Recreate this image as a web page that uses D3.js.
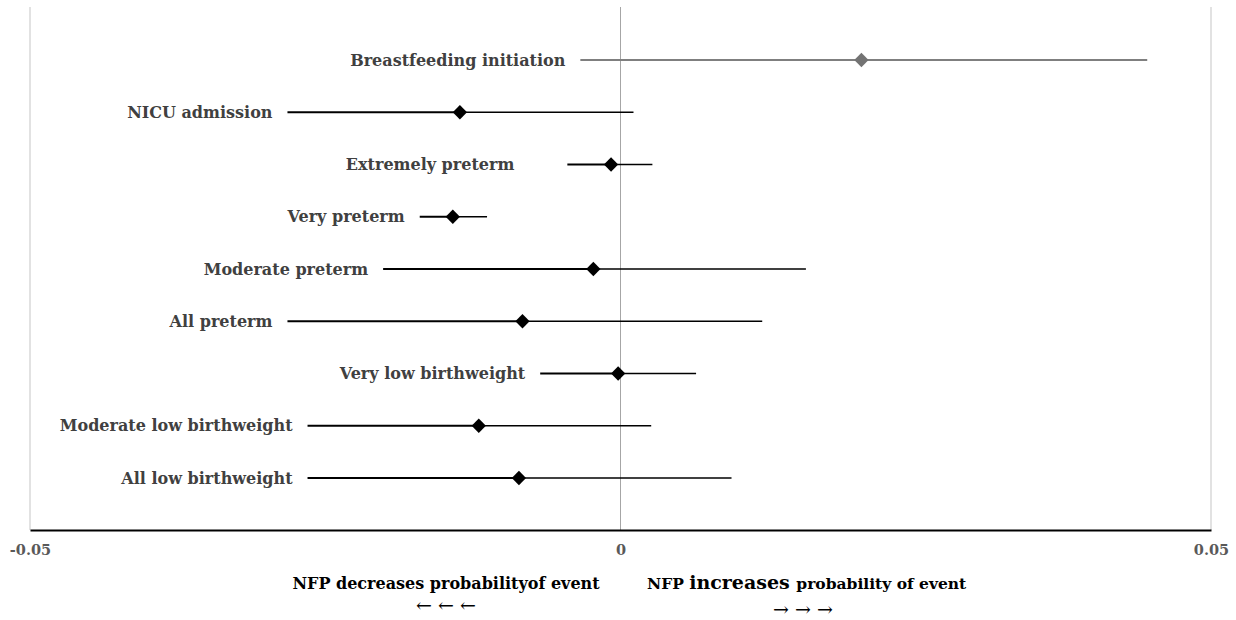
<!DOCTYPE html>
<html>
<head>
<meta charset="utf-8">
<script src="https://cdn.jsdelivr.net/npm/d3@7"></script>
<style>
  body { margin: 0; background: #ffffff; }
  #wrapper svg { display: block; }
</style>
</head>
<body>
<div id="wrapper"></div>
<script>
// outcomes, top to bottom
const outcomes = [
    "Breastfeeding initiation",
    "NICU admission",
    "Extremely preterm",
    "Very preterm",
    "Moderate preterm",
    "All preterm",
    "Very low birthweight",
    "Moderate low birthweight",
    "All low birthweight"
];
// point estimates and confidence bounds
const estimates = [0.0204, -0.0136, -0.0008, -0.0142, -0.0023, -0.0083, -0.0002, -0.0120, -0.0086];
const lowerBounds = [-0.0034, -0.0282, -0.0045, -0.0170, -0.0201, -0.0282, -0.0068, -0.0265, -0.0265];
const upperBounds = [0.0446, 0.0011, 0.0027, -0.0113, 0.0157, 0.0120, 0.0064, 0.0026, 0.0094];
const tickValues = [-0.05, 0, 0.05];
const tickLabels = ["-0.05", "0", "0.05"];

function buildPlot() {
    const dimension = {
        width: 1236,
        height: 620,
        margin: { top: 7, left: 30, bottom: 90, right: 25 }
    };
    dimension.boundedWidth = dimension.width - dimension.margin.left - dimension.margin.right;
    dimension.boundedHeight = dimension.height - dimension.margin.top - dimension.margin.bottom;

    const svg = d3.select("#wrapper").append("svg")
        .attr("width", dimension.width)
        .attr("height", dimension.height);

    const bounds = svg.append("g")
        .attr("transform", `translate(${dimension.margin.left},${dimension.margin.top})`);

    const xScaler = d3.scaleLinear()
        .domain([-0.05, 0.05])
        .range([0, dimension.boundedWidth]);

    const yScaler = d3.scalePoint()
        .domain(outcomes)
        .range([53, 471]);

    // light frame left/right
    bounds.append("line")
        .attr("x1", 0).attr("x2", 0)
        .attr("y1", 0).attr("y2", dimension.boundedHeight)
        .attr("stroke", "#d9d9d9").attr("stroke-width", 1.5);
    bounds.append("line")
        .attr("x1", dimension.boundedWidth).attr("x2", dimension.boundedWidth)
        .attr("y1", 0).attr("y2", dimension.boundedHeight)
        .attr("stroke", "#d9d9d9").attr("stroke-width", 1.5);

    // zero line
    bounds.append("line")
        .attr("x1", xScaler(0)).attr("x2", xScaler(0))
        .attr("y1", 0).attr("y2", dimension.boundedHeight)
        .attr("stroke", "#a6a6a6").attr("stroke-width", 1);

    // x axis
    const xAxisGenerator = d3.axisBottom(xScaler)
        .tickValues(tickValues)
        .tickSize(0)
        .tickPadding(15)
        .tickFormat((d, i) => tickLabels[i]);

    const xAxis = bounds.append("g")
        .attr("transform", `translate(0,${dimension.boundedHeight})`)
        .call(xAxisGenerator);
    xAxis.select(".domain")
        .attr("stroke", "#000")
        .attr("stroke-width", 2);
    xAxis.selectAll("text")
        .attr("fill", "#595959")
        .style("font-family", "'DejaVu Serif', serif")
        .style("font-weight", "bold")
        .style("font-size", "14.5px");

    const data = outcomes.map((name, i) => ({
        name: name,
        est: estimates[i],
        lo: lowerBounds[i],
        hi: upperBounds[i],
        first: i === 0
    }));

    const rows = bounds.selectAll(".row")
        .data(data)
        .enter()
        .append("g")
        .attr("class", "row")
        .attr("transform", (d) => `translate(0,${yScaler(d.name)})`);

    // left whisker (thicker), right whisker (thin)
    rows.append("line")
        .attr("x1", (d) => xScaler(d.lo))
        .attr("x2", (d) => xScaler(d.est))
        .attr("stroke", (d) => d.first ? "#7f7f7f" : "#000")
        .attr("stroke-width", 2.2);
    rows.append("line")
        .attr("x1", (d) => xScaler(d.est))
        .attr("x2", (d) => xScaler(d.hi))
        .attr("stroke", (d) => d.first ? "#7f7f7f" : "#000")
        .attr("stroke-width", (d) => d.first ? 2.2 : 1.3);

    // diamonds
    rows.append("path")
        .attr("d", d3.symbol().type(d3.symbolDiamond2).size(130))
        .attr("transform", (d) => `translate(${xScaler(d.est)},0)`)
        .attr("fill", (d) => d.first ? "#737373" : "#000");

    // labels, right-aligned left of the lower bound
    rows.append("text")
        .attr("x", (d) => xScaler(d.lo) - (d.name === "Extremely preterm" ? 53 : 15))
        .attr("dy", "0.35em")
        .attr("text-anchor", "end")
        .attr("fill", "#404040")
        .style("font-family", "'DejaVu Serif', serif")
        .style("font-weight", "bold")
        .style("font-size", "16px")
        .text((d) => d.name);

    // direction notes under the axis
    const notes = svg.append("g")
        .style("font-family", "'DejaVu Serif', serif")
        .attr("fill", "#000");

    notes.append("text")
        .attr("x", 446).attr("y", 589)
        .attr("text-anchor", "middle")
        .style("font-weight", "bold")
        .style("font-size", "16px")
        .text("NFP decreases probabilityof event");
    notes.append("text")
        .attr("x", 446).attr("y", 612)
        .attr("text-anchor", "middle")
        .style("font-size", "19px")
        .text("← ← ←");

    const inc = notes.append("text")
        .attr("x", 647).attr("y", 589)
        .style("font-weight", "bold")
        .style("font-size", "15.5px");
    inc.append("tspan").text("NFP ");
    inc.append("tspan").style("font-size", "19px").text("increases ");
    inc.append("tspan").text("probability of event");

    notes.append("text")
        .attr("x", 803).attr("y", 616)
        .attr("text-anchor", "middle")
        .style("font-size", "19px")
        .text("→ → →");
}

buildPlot();
</script>
</body>
</html>
